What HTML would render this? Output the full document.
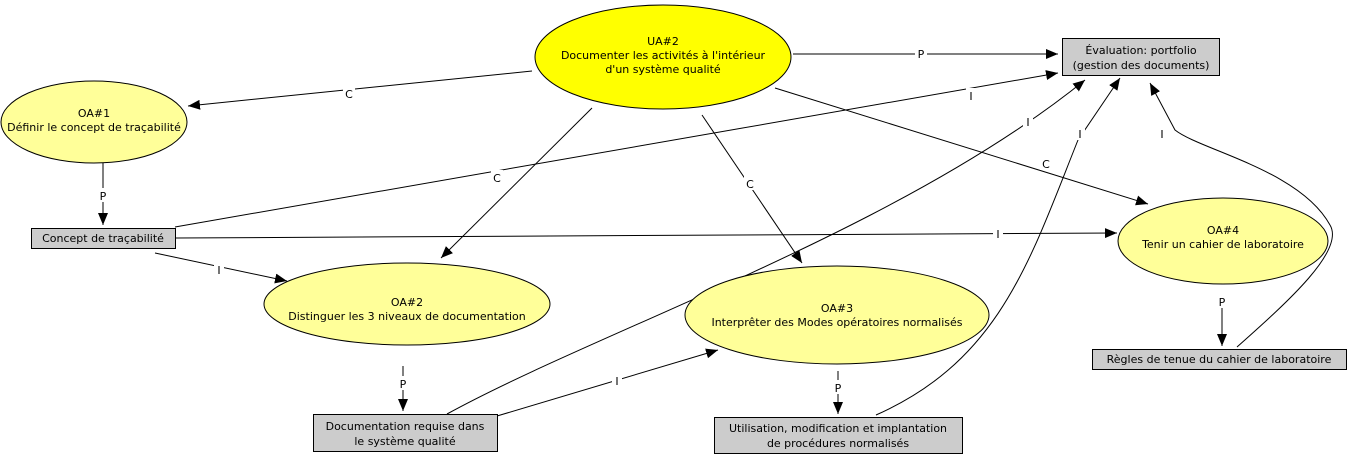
<!DOCTYPE html>
<html><head><meta charset="utf-8"><style>
body{margin:0;background:#fff}
svg{display:block}
text{font-family:"DejaVu Sans","Liberation Sans",sans-serif;font-size:11px;fill:#000}
</style></head><body>
<svg width="1351" height="455" viewBox="0 0 1351 455" xmlns="http://www.w3.org/2000/svg">
<defs><marker id="a" markerWidth="12" markerHeight="10" refX="12" refY="5" orient="auto" markerUnits="userSpaceOnUse"><path d="M0,0 L12,5 L0,10 z" fill="#000"/></marker></defs>
<g stroke="#000" stroke-width="1" fill="none" marker-end="url(#a)">
<line x1="793" y1="54" x2="1058" y2="54"/>
<line x1="532" y1="71" x2="188" y2="106"/>
<line x1="103" y1="163" x2="103" y2="225"/>
<line x1="175" y1="227" x2="1058" y2="73"/>
<line x1="592" y1="108" x2="441" y2="258"/>
<line x1="702" y1="115" x2="802" y2="263"/>
<line x1="775" y1="88" x2="1148" y2="204"/>
<line x1="176" y1="238" x2="1117" y2="233"/>
<line x1="155" y1="253" x2="287" y2="281"/>
<line x1="403" y1="366" x2="403" y2="411"/>
<line x1="497" y1="416" x2="718" y2="350"/>
<path d="M447,414 C600,330 900,230 1085,80"/>
<line x1="838" y1="371" x2="838" y2="414"/>
<path d="M876,415 C1000,360 1030,260 1078,140 L1120,78"/>
<line x1="1222" y1="295" x2="1222" y2="346"/>
<path d="M1237,347 C1290,300 1345,250 1330,225 C1300,170 1200,150 1175,130 L1150,83"/>
</g>
<g>
<ellipse cx="663" cy="57" rx="128" ry="52" fill="#ffff00" stroke="#000"/>
<ellipse cx="94" cy="122" rx="93" ry="41" fill="#ffff99" stroke="#000"/>
<ellipse cx="407" cy="304" rx="143" ry="41" fill="#ffff99" stroke="#000"/>
<ellipse cx="837" cy="315" rx="152" ry="49" fill="#ffff99" stroke="#000"/>
<ellipse cx="1223" cy="241" rx="105" ry="43" fill="#ffff99" stroke="#000"/>
<rect x="1062.5" y="38.5" width="157" height="37" fill="#cccccc" stroke="#000"/>
<rect x="31.5" y="228.5" width="144" height="20" fill="#cccccc" stroke="#000"/>
<rect x="313.5" y="414.5" width="184" height="37" fill="#cccccc" stroke="#000"/>
<rect x="714.5" y="417.5" width="248" height="36" fill="#cccccc" stroke="#000"/>
<rect x="1092.5" y="349.5" width="254" height="20" fill="#cccccc" stroke="#000"/>
</g>
<g text-anchor="middle">
<text x="663" y="45">UA#2</text>
<text x="663" y="59">Documenter les activités à l'intérieur</text>
<text x="663" y="73">d'un système qualité</text>
<text x="94" y="117">OA#1</text>
<text x="94" y="131">Définir le concept de traçabilité</text>
<text x="407" y="306">OA#2</text>
<text x="407" y="320">Distinguer les 3 niveaux de documentation</text>
<text x="837" y="312">OA#3</text>
<text x="837" y="326">Interprêter des Modes opératoires normalisés</text>
<text x="1223" y="234">OA#4</text>
<text x="1223" y="248">Tenir un cahier de laboratoire</text>
<text x="1141" y="54">Évaluation: portfolio</text>
<text x="1141" y="69">(gestion des documents)</text>
<text x="103" y="242">Concept de traçabilité</text>
<text x="405" y="430">Documentation requise dans</text>
<text x="405" y="445">le système qualité</text>
<text x="838" y="432">Utilisation, modification et implantation</text>
<text x="838" y="447">de procédures normalisés</text>
<text x="1219" y="363">Règles de tenue du cahier de laboratoire</text>
</g>
<g text-anchor="middle">
<rect x="915" y="46" width="12" height="14" fill="#fff"/><text x="921" y="58">P</text>
<rect x="343" y="86" width="12" height="14" fill="#fff"/><text x="349" y="98">C</text>
<rect x="97" y="188" width="12" height="14" fill="#fff"/><text x="103" y="200">P</text>
<rect x="966" y="88" width="10" height="14" fill="#fff"/><text x="971" y="100">I</text>
<rect x="491" y="170" width="12" height="14" fill="#fff"/><text x="497" y="182">C</text>
<rect x="744" y="176" width="12" height="14" fill="#fff"/><text x="750" y="188">C</text>
<rect x="1040" y="156" width="12" height="14" fill="#fff"/><text x="1046" y="168">C</text>
<rect x="993" y="226" width="10" height="14" fill="#fff"/><text x="998" y="238">I</text>
<rect x="214" y="262" width="10" height="14" fill="#fff"/><text x="219" y="274">I</text>
<rect x="397" y="376" width="12" height="14" fill="#fff"/><text x="403" y="388">P</text>
<rect x="612" y="373" width="10" height="14" fill="#fff"/><text x="617" y="385">I</text>
<rect x="1023" y="114" width="10" height="14" fill="#fff"/><text x="1028" y="126">I</text>
<rect x="832" y="380" width="12" height="14" fill="#fff"/><text x="838" y="392">P</text>
<rect x="1075" y="126" width="10" height="14" fill="#fff"/><text x="1080" y="138">I</text>
<rect x="1216" y="294" width="12" height="14" fill="#fff"/><text x="1222" y="306">P</text>
<rect x="1157" y="126" width="10" height="14" fill="#fff"/><text x="1162" y="138">I</text>
</g>
</svg>
</body></html>
